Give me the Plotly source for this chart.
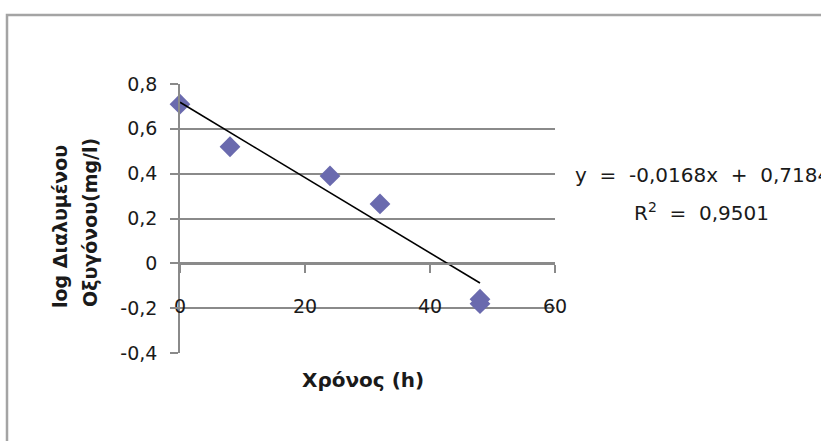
import plotly.graph_objects as go

# Measurements: time (h) and log of dissolved oxygen (mg/l)
time_h = [0, 8, 24, 32, 48, 48]
log_do = [0.71, 0.52, 0.39, 0.265, -0.16, -0.18]

# Linear trendline as reported on the chart
slope = -0.0168
intercept = 0.7184
r_squared = 0.9501
trend_x = [0, 48]
trend_y = [intercept + slope * x for x in trend_x]

# Axis ticks
x_ticks = [0, 20, 40, 60]
y_ticks = [-0.4, -0.2, 0, 0.2, 0.4, 0.6, 0.8]
y_tick_text = ["-0,4", "-0,2", "0", "0,2", "0,4", "0,6", "0,8"]

W, H = 821, 441
L, R, T, B = 180, 555, 84, 353  # plot area in pixels


def px(x):
    return (x - L) / (R - L)


def py(y):
    return (B - y) / (B - T)


FONT = "DejaVu Sans"
GRID = "#8A8A8A"
INK = "#1a1a1a"

fig = go.Figure()
fig.add_trace(go.Scatter(
    x=time_h, y=log_do, mode="markers",
    marker=dict(symbol="diamond", size=16, color="#6A6AAE",
                line=dict(width=0)),
    cliponaxis=False, showlegend=False,
))
fig.add_trace(go.Scatter(
    x=trend_x, y=trend_y, mode="lines",
    line=dict(color="black", width=1.6),
    cliponaxis=False, showlegend=False,
))

fmt = lambda v: f"{v:.4f}".replace(".", ",")
sp = "\u00a0\u00a0"
eq_text = f"y{sp}={sp}{fmt(slope)}x{sp}+{sp}{fmt(intercept)}"
r2_text = f"R<sup>2</sup>{sp}={sp}{fmt(r_squared)}"

annotations = [
    dict(text=eq_text, x=px(573), y=py(175), xref="paper", yref="paper",
         xanchor="left", yanchor="middle", showarrow=False,
         font=dict(family=FONT, size=20, color=INK)),
    dict(text=r2_text, x=px(701), y=py(212), xref="paper", yref="paper",
         xanchor="center", yanchor="middle", showarrow=False,
         font=dict(family=FONT, size=20, color=INK)),
    dict(text="<b>Χρόνος (h)</b>", x=px(363), y=py(380), xref="paper",
         yref="paper", xanchor="center", yanchor="middle", showarrow=False,
         font=dict(family=FONT, size=20, color=INK)),
    dict(text="<b>log Διαλυμένου</b>", x=px(60), y=py(227), xref="paper",
         yref="paper", xanchor="center", yanchor="middle", showarrow=False,
         textangle=-90, font=dict(family=FONT, size=19, color=INK)),
    dict(text="<b>Οξυγόνου(mg/l)</b>", x=px(90), y=py(223), xref="paper",
         yref="paper", xanchor="center", yanchor="middle", showarrow=False,
         textangle=-90, font=dict(family=FONT, size=19, color=INK)),
]

fig.update_layout(
    width=W, height=H,
    margin=dict(l=L, r=W - R, t=T, b=H - B, autoexpand=False),
    paper_bgcolor="white", plot_bgcolor="white",
    font=dict(family=FONT, size=19, color=INK),
    separators=",.",
    annotations=annotations,
    shapes=[dict(type="rect", xref="paper", yref="paper",
                 x0=px(7), x1=px(900), y0=py(520), y1=py(15),
                 line=dict(color="#A4A4A4", width=2.5), layer="below")],
)

fig.update_xaxes(
    range=[0, 60], tickvals=x_ticks, showgrid=False, zeroline=False,
    showline=True, linecolor=GRID, linewidth=1.6,
    ticks="outside", ticklen=8, tickcolor=GRID, tickwidth=1.6,
    ticklabelstandoff=17,
    anchor="free", position=py(264),
    tickfont=dict(family=FONT, size=19, color=INK),
)
fig.update_yaxes(
    range=[-0.4, 0.8], tickvals=y_ticks, ticktext=y_tick_text,
    showgrid=True, gridcolor=GRID, gridwidth=1.6, zeroline=False,
    showline=True, linecolor=GRID, linewidth=1.6,
    ticks="outside", ticklen=8, tickcolor=GRID, tickwidth=1.6,
    ticklabelstandoff=9,
    tickfont=dict(family=FONT, size=19, color=INK),
)

fig.write_html("out.html")
